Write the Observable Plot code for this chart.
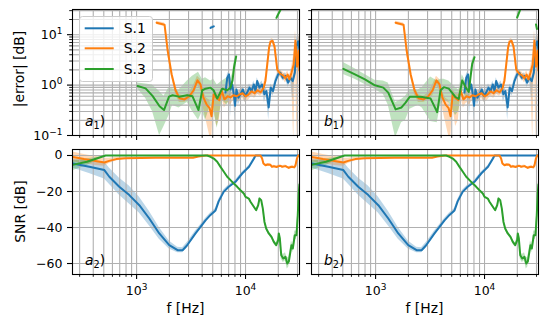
<!DOCTYPE html>
<html><head><meta charset="utf-8">
<script src="https://cdn.jsdelivr.net/npm/d3@7"></script>
<script src="https://cdn.jsdelivr.net/npm/@observablehq/plot@0.6"></script>
<style>
body{margin:0;background:#fff;}
#fig{position:relative;width:548px;height:328px;font-family:"DejaVu Sans",sans-serif;overflow:hidden;}
</style></head>
<body><div id="fig"></div>
<script>
// ---------- data ----------
const SERIES = ["S.1", "S.2", "S.3"];
const COLORS = ["#1f77b4", "#ff7f0e", "#2ca02c"];
const FREQ_DOMAIN = [258, 31300];
const ERR_DOMAIN = [0.1, 31.6];
const SNR_DOMAIN = [-66.1, 3.33];
const X_MAJOR = [1000, 10000];
const X_MINOR = [300,400,500,600,700,800,900,2000,3000,4000,5000,6000,7000,8000,9000,20000,30000];
const X_TICK_LABELS = ["10^3", "10^4"];
const ERR_MAJOR = [0.1, 1, 10];
const ERR_MINOR = [0.2,0.3,0.4,0.5,0.6,0.7,0.8,0.9,2,3,4,5,6,7,8,9,20,30];
const ERR_TICK_LABELS = ["10^−1", "10^0", "10^1"];
const SNR_TICKS = [0, -20, -40, -60];
const SNR_TICK_LABELS = ["0", "−20", "−40", "−60"];

// |error| rows: [f (Hz), mean, low, high]
const S1_err = [
  [6550,0.71,0.55,0.85],[6800,1.40,1.1,1.6],[7050,1.63,1.3,1.9],[7280,0.82,0.23,1.0],
  [7550,1.03,0.8,1.2],[7850,0.61,0.4,0.75],[8020,0.39,0.2,0.5],[8250,0.82,0.6,1.0],
  [8600,0.56,0.4,0.7],[8990,0.66,0.5,0.8],[9450,0.82,0.65,0.95],[9850,0.61,0.45,0.75],
  [10350,0.71,0.55,0.85],[10880,0.89,0.7,1.05],[11360,0.76,0.6,0.9],[11930,1.03,0.85,1.2],
  [12350,0.76,0.55,0.9],[12800,1.20,1.0,1.4],[13430,0.89,0.7,1.05],[14200,1.03,0.85,1.2],
  [14900,0.66,0.45,0.8],[15550,0.76,0.6,0.9],[16320,0.36,0.2,0.5],[17030,0.89,0.7,1.05],
  [17890,0.76,0.6,0.9],[18840,1.20,1.0,1.4],[19930,1.63,1.4,1.85],[20940,1.75,1.5,2.0],
  [22010,1.40,1.2,1.6],[23270,1.51,1.3,1.75],[24620,1.12,0.9,1.3],[25870,1.40,1.2,1.6],
  [27150,1.20,0.5,1.4],[28360,1.75,1.4,2.0],[29360,5.9,4,8],[30400,7.4,5,10],[31300,5.0,3,8]
];
const a1_S1_spur = [[4775,13.6,12.8,14.4],[5117,14.6,13.8,15.4]];
const S2_err = [
  [1526,17.3,16,18.5],[1807,15.7,14.5,17],[1930,4.8,4,5.8],[2100,1.62,1.4,1.9],
  [2278,0.79,0.65,0.95],[2470,0.55,0.45,0.65],[2750,0.52,0.45,0.6],[3050,0.60,0.5,0.7],
  [3340,0.79,0.6,1.0],[3620,1.24,1.0,1.5],[3863,1.03,0.8,1.3],[4100,0.57,0.35,0.75],
  [4400,0.41,0.18,0.55],[4680,0.35,0.1,0.5],[4880,0.24,0.08,0.35],[5100,0.65,0.4,0.8],
  [5430,0.55,0.15,0.7],[5750,0.50,0.2,0.65],[6030,0.79,0.6,0.95],[6400,0.52,0.35,0.65],
  [6850,0.60,0.45,0.75],[7280,0.57,0.4,0.7],[7760,0.63,0.5,0.75],[8300,0.60,0.45,0.75],
  [8800,0.65,0.5,0.8],[9390,0.69,0.55,0.85],[10000,0.60,0.45,0.75],[10650,0.65,0.5,0.8],
  [11360,0.75,0.6,0.9],[12100,0.69,0.55,0.85],[12900,0.79,0.65,0.95],[13730,0.72,0.6,0.85],
  [14620,0.86,0.7,1.0],[15260,1.24,1.0,1.5],[15900,2.80,2.4,3.3],[16450,5.5,4.8,6.3],
  [16950,7.2,6.5,8],[17700,7.6,6.8,8.4],[18480,5.8,5,6.6],[19550,2.04,1.7,2.4],
  [20710,1.70,1.45,2.0],[22120,1.55,1.3,1.8],[23270,1.36,1.1,1.6],[24370,1.62,1.35,1.9],
  [25350,1.30,1.05,1.55],[26470,1.78,1.4,2.2],[27680,2.56,0.08,4],[28750,7.6,3,12],
  [29700,2.33,0.08,5],[30700,4.8,2,10],[31300,1.95,1,8]
];
const a1_S3 = [
  [1021,0.96,0.85,1.1],[1209,0.86,0.55,1.05],[1400,0.61,0.3,1.0],[1625,0.38,0.1,0.75],
  [1785,0.32,0.15,0.6],[1985,0.59,0.25,0.9],[2140,0.63,0.4,0.85],[2450,0.59,0.35,0.8],
  [2918,0.63,0.45,1.2],[3260,0.60,0.3,1.5],[3700,0.32,0.2,1.8],[4009,0.79,0.3,1.3],
  [4298,0.85,0.2,1.4],[4771,0.89,0.4,1.2],[5090,0.79,0.3,1.3],[5500,0.54,0.14,1.0],
  [6100,0.85,0.5,1.2],[6800,0.79,0.4,1.4],[7280,0.90,0.6,1.3],[7600,1.24,0.9,1.7],
  [7850,2.26,1.8,2.8],[8200,3.7,3.2,4.2],[9000,null,null,null],
  [19230,21.6,20,23],[21380,34,32,36]
];
const b1_S3 = [
  [506,2.1,1.63,2.8],[646,1.63,1.3,2.1],[798,1.30,1.03,1.63],[985,0.99,0.82,1.25],
  [1177,0.89,0.66,1.2],[1307,0.71,0.4,1.1],[1526,0.33,0.09,0.45],[1730,0.36,0.18,0.52],
  [1885,0.45,0.2,0.6],[2065,0.59,0.33,0.82],[2465,0.59,0.4,0.8],[2680,0.58,0.35,0.9],
  [3200,0.54,0.19,1.44],[3680,0.29,0.18,1.2],[3945,0.79,0.4,1.3],[4230,0.91,0.5,1.3],
  [4700,0.85,0.45,1.2],[5420,0.58,0.25,0.9],[5800,0.53,0.3,0.8],[6240,1.24,0.8,1.6],
  [6700,0.91,0.6,1.2],[7170,0.73,0.5,1.0],[7440,1.44,1.1,1.8],[7710,2.64,2.2,3.1],
  [8090,3.57,3.1,4.0],[9000,null,null,null],
  [19930,21.9,20.5,23],[21180,30.8,29,33],[22000,null,null,null],
  [29700,16,15,17],[30300,13,12,14]
];

// SNR rows (dB): [f (Hz), mean, low, high]
const S1_snr = [
  [259,-4.4,-7,-2],[368,-6.3,-10,-3],[506,-8.1,-13,-3.5],[562,-11.8,-16,-7],
  [693,-17.4,-22,-12.5],[857,-22,-27,-17],[1059,-27.6,-32,-23],[1308,-35,-39,-31],
  [1615,-43.3,-46.5,-40],[1995,-49.8,-52,-47.5],[2378,-52.6,-54,-51],[2642,-52.6,-54,-51.2],
  [2900,-50,-51.5,-48.5],[3475,-43.3,-44.5,-42],[4293,-36,-37,-35],[4771,-33,-34,-32],
  [5303,-30.5,-31.5,-29.5],[5670,-25.5,-26.5,-24.5],[6300,-20.2,-21.2,-19.2],
  [7010,-17.4,-18.4,-16.4],[8090,-14.6,-15.5,-13.7],[9330,-10,-10.8,-9.2],
  [10770,-6.3,-7,-5.6],[11960,-1.7,-2.3,-1.1],[12350,0,0,0],[31300,0,0,0]
];
const S2_snr = [
  [259,-0.8,-3.5,2],[330,-2,-4.5,0.5],[420,-3,-5.5,-0.5],[506,-3.9,-6,-1.5],
  [560,-3,-4.5,-1.5],[650,-2,-3,-1],[800,-1.5,-2,-1],[1500,-1.3,-1.7,-0.9],
  [3000,-1.3,-1.7,-0.9],[3300,-1.2,-1.6,-0.8],[3700,-0.6,-0.9,-0.3],[4293,0,0,0],
  [13730,0,0,0],[14200,-1.7,-2.2,-1.2],[14600,-4.4,-5,-3.8],[15260,-5.4,-6,-4.8],
  [16000,-5.0,-5.6,-4.4],[16950,-5.2,-5.8,-4.6],[17500,-6.3,-6.9,-5.7],[18190,-6.0,-6.6,-5.4],
  [19300,-6.4,-7,-5.8],[20220,-5.9,-6.5,-5.3],[21000,-5.8,-6.4,-5.2],[21730,-6.3,-6.9,-5.7],
  [23270,-5.9,-6.5,-5.3],[24960,-6.9,-7.5,-6.3],[26000,-6.4,-7,-5.8],[26800,-6.3,-6.9,-5.7],
  [28000,-6.6,-7.2,-6],[28750,-5.6,-6.2,-5],[29660,-1.7,-2.3,-1.1],[30400,0,0,0],[31300,0,0,0]
];
const S3_snr = [
  [259,-5.2,-8.5,-3],[350,-3.5,-5.5,-2],[520,0,-0.3,0],[4454,0,0,0],
  [4771,-0.7,-1,-0.4],[5117,-1.7,-2,-1.4],[5495,-3.5,-3.9,-3.1],[5893,-6.3,-6.7,-5.9],
  [6325,-9,-9.4,-8.6],[6792,-11.8,-12.2,-11.4],[7280,-13.7,-14.1,-13.3],[7814,-15.6,-16,-15.2],
  [8390,-17.4,-17.8,-17],[8990,-19.3,-19.7,-18.9],[9648,-21.1,-21.5,-20.7],[10000,-23,-23.4,-22.6],
  [10720,-23.9,-24.4,-23.4],[11110,-25.7,-26.2,-25.2],[11920,-28.5,-29,-28],[12530,-30.4,-31,-29.8],
  [13080,-27.6,-28.2,-27],[13430,-23.9,-24.5,-23.3],[13930,-24.8,-25.4,-24.2],[14410,-29.4,-30,-28.8],
  [14930,-36.9,-37.6,-36.2],[15480,-40.6,-41.4,-39.8],[16350,-43.3,-44.2,-42.4],[17330,-45.2,-46.2,-44.2],
  [18190,-48,-49,-47],[19140,-49.8,-51,-48.5],[19960,-47,-48.5,-45.5],[20220,-43.3,-45,-42],
  [20650,-46,-48,-44],[21280,-55.4,-57.5,-53.5],[22200,-57.2,-59.5,-55],[23270,-56.3,-58.5,-54],
  [24150,-60,-63,-57],[24960,-59,-62,-56.5],[26420,-49.8,-52,-47.5],[27170,-51.7,-54,-49.5],
  [28340,-44.3,-46.5,-42],[29360,-44.3,-46.5,-42],[30180,-33.2,-35,-31.5],[30820,-20.2,-22,-18.5],
  [31300,-16,-18,-14]
];

// ---------- drawing ----------
const toRows = arr => arr.map(([f, v, lo, hi]) => ({f, v, lo: lo ?? v, hi: hi ?? v}));
const fig = document.getElementById("fig");
const GRID = "#b0b0b0";

function superscriptLabels(svg) {
  d3.select(svg).selectAll("text").each(function () {
    const m = /^10\^(.+)$/.exec(this.textContent);
    if (!m) return;
    this.textContent = "10";
    d3.select(this).append("tspan").attr("font-size", "9px").attr("dy", "-5").text(m[1]);
  });
}

function makePanel({left, top, width, height, margin, yType, yDomain, yMajor, yMinor, yLabels, showX, showY, layers}) {
  const [mt, mr, mb, ml] = margin;
  const marks = [];
  layers.forEach(l => marks.push(Plot.areaY(toRows(l.data), {x: "f", y1: "lo", y2: "hi", fill: l.color, fillOpacity: 0.3, clip: true})));
  marks.push(Plot.gridX({ticks: [...X_MAJOR, ...X_MINOR], stroke: GRID, strokeOpacity: 1, strokeWidth: 1.1}));
  marks.push(Plot.gridY({ticks: [...yMajor, ...yMinor], stroke: GRID, strokeOpacity: 1, strokeWidth: 1.1}));
  layers.forEach(l => marks.push(Plot.lineY(toRows(l.data), {x: "f", y: "v", stroke: l.color, strokeWidth: 2, clip: true})));
  marks.push(Plot.frame({stroke: "black", strokeWidth: 1.1}));
  marks.push(Plot.axisX({ticks: X_MAJOR, tickSize: 5, tickPadding: 7, strokeWidth: 1.1, label: null,
    tickFormat: d => showX ? X_TICK_LABELS[X_MAJOR.indexOf(d)] : ""}));
  marks.push(Plot.axisX({ticks: X_MINOR, tickSize: 2.8, strokeWidth: 0.9, label: null, tickFormat: () => ""}));
  marks.push(Plot.axisY({ticks: yMajor, tickSize: 5, tickPadding: 5, strokeWidth: 1.1, label: null,
    tickFormat: d => showY ? yLabels[yMajor.indexOf(d)] : ""}));
  if (yMinor.length) marks.push(Plot.axisY({ticks: yMinor, tickSize: 2.8, strokeWidth: 0.9, label: null, tickFormat: () => ""}));
  const svg = Plot.plot({
    width, height, marginTop: mt, marginRight: mr, marginBottom: mb, marginLeft: ml,
    x: {type: "log", domain: FREQ_DOMAIN, label: null},
    y: {type: yType, domain: yDomain, label: null},
    style: {fontFamily: "DejaVu Sans", fontSize: "12.5px", background: "transparent", color: "black",
            position: "absolute", left: left + "px", top: top + "px", overflow: "visible"},
    marks
  });
  superscriptLabels(svg);
  fig.appendChild(svg);
}

const topCommon = {yType: "log", yDomain: ERR_DOMAIN, yMajor: ERR_MAJOR, yMinor: ERR_MINOR, yLabels: ERR_TICK_LABELS, showX: false};
const botCommon = {yType: "linear", yDomain: SNR_DOMAIN, yMajor: SNR_TICKS, yMinor: [], yLabels: SNR_TICK_LABELS, showX: true};

makePanel({...topCommon, left: 0, top: 0, width: 305, height: 142, margin: [9, 6, 7, 72], showY: true,
  layers: [{data: S1_err, color: COLORS[0]}, {data: a1_S1_spur, color: COLORS[0]}, {data: S2_err, color: COLORS[1]}, {data: a1_S3, color: COLORS[2]}]});
makePanel({...topCommon, left: 305, top: 0, width: 239, height: 142, margin: [9, 6, 7, 6], showY: false,
  layers: [{data: S1_err, color: COLORS[0]}, {data: S2_err, color: COLORS[1]}, {data: b1_S3, color: COLORS[2]}]});
makePanel({...botCommon, left: 0, top: 142, width: 305, height: 186, margin: [7, 6, 54, 72], showY: true,
  layers: [{data: S1_snr, color: COLORS[0]}, {data: S2_snr, color: COLORS[1]}, {data: S3_snr, color: COLORS[2]}]});
makePanel({...botCommon, left: 305, top: 142, width: 239, height: 186, margin: [7, 6, 54, 6], showY: false,
  layers: [{data: S1_snr, color: COLORS[0]}, {data: S2_snr, color: COLORS[1]}, {data: S3_snr, color: COLORS[2]}]});

// ---------- overlay: labels and legend ----------
const ov = d3.select(fig).append("svg")
  .attr("width", 548).attr("height", 328)
  .style("position", "absolute").style("left", "0px").style("top", "0px")
  .attr("font-family", "DejaVu Sans").attr("font-size", 13.9);

ov.append("text").attr("transform", "translate(24,69) rotate(-90)").attr("text-anchor", "middle").text("|error| [dB]");
ov.append("text").attr("transform", "translate(25,211.5) rotate(-90)").attr("text-anchor", "middle").text("SNR [dB]");
ov.append("text").attr("x", 185.5).attr("y", 313).attr("text-anchor", "middle").text("f [Hz]");
ov.append("text").attr("x", 424.5).attr("y", 313).attr("text-anchor", "middle").text("f [Hz]");

const PANEL_LABELS = [["a", "1", 85, 126], ["b", "1", 324, 126], ["a", "2", 85, 265], ["b", "2", 324, 265]];
PANEL_LABELS.forEach(([c, s, x, y]) => {
  const t = ov.append("text").attr("x", x).attr("y", y);
  t.append("tspan").attr("font-style", "italic").text(c);
  t.append("tspan").attr("font-size", 9.7).attr("dy", 3).text(s);
  t.append("tspan").attr("dy", -3).text(")");
});

const lg = ov.append("g");
lg.append("rect").attr("x", 79.5).attr("y", 16.5).attr("width", 73).attr("height", 65).attr("rx", 3)
  .attr("fill", "white").attr("fill-opacity", 0.8).attr("stroke", "#cccccc").attr("stroke-width", 1);
const LEG_Y = [28.3, 48.3, 69];
SERIES.forEach((name, i) => {
  lg.append("line").attr("x1", 84.7).attr("x2", 113.7).attr("y1", LEG_Y[i]).attr("y2", LEG_Y[i])
    .attr("stroke", COLORS[i]).attr("stroke-width", 2);
  lg.append("text").attr("x", 123.7).attr("y", LEG_Y[i] + 5).text(name);
});
</script>
</body></html>
